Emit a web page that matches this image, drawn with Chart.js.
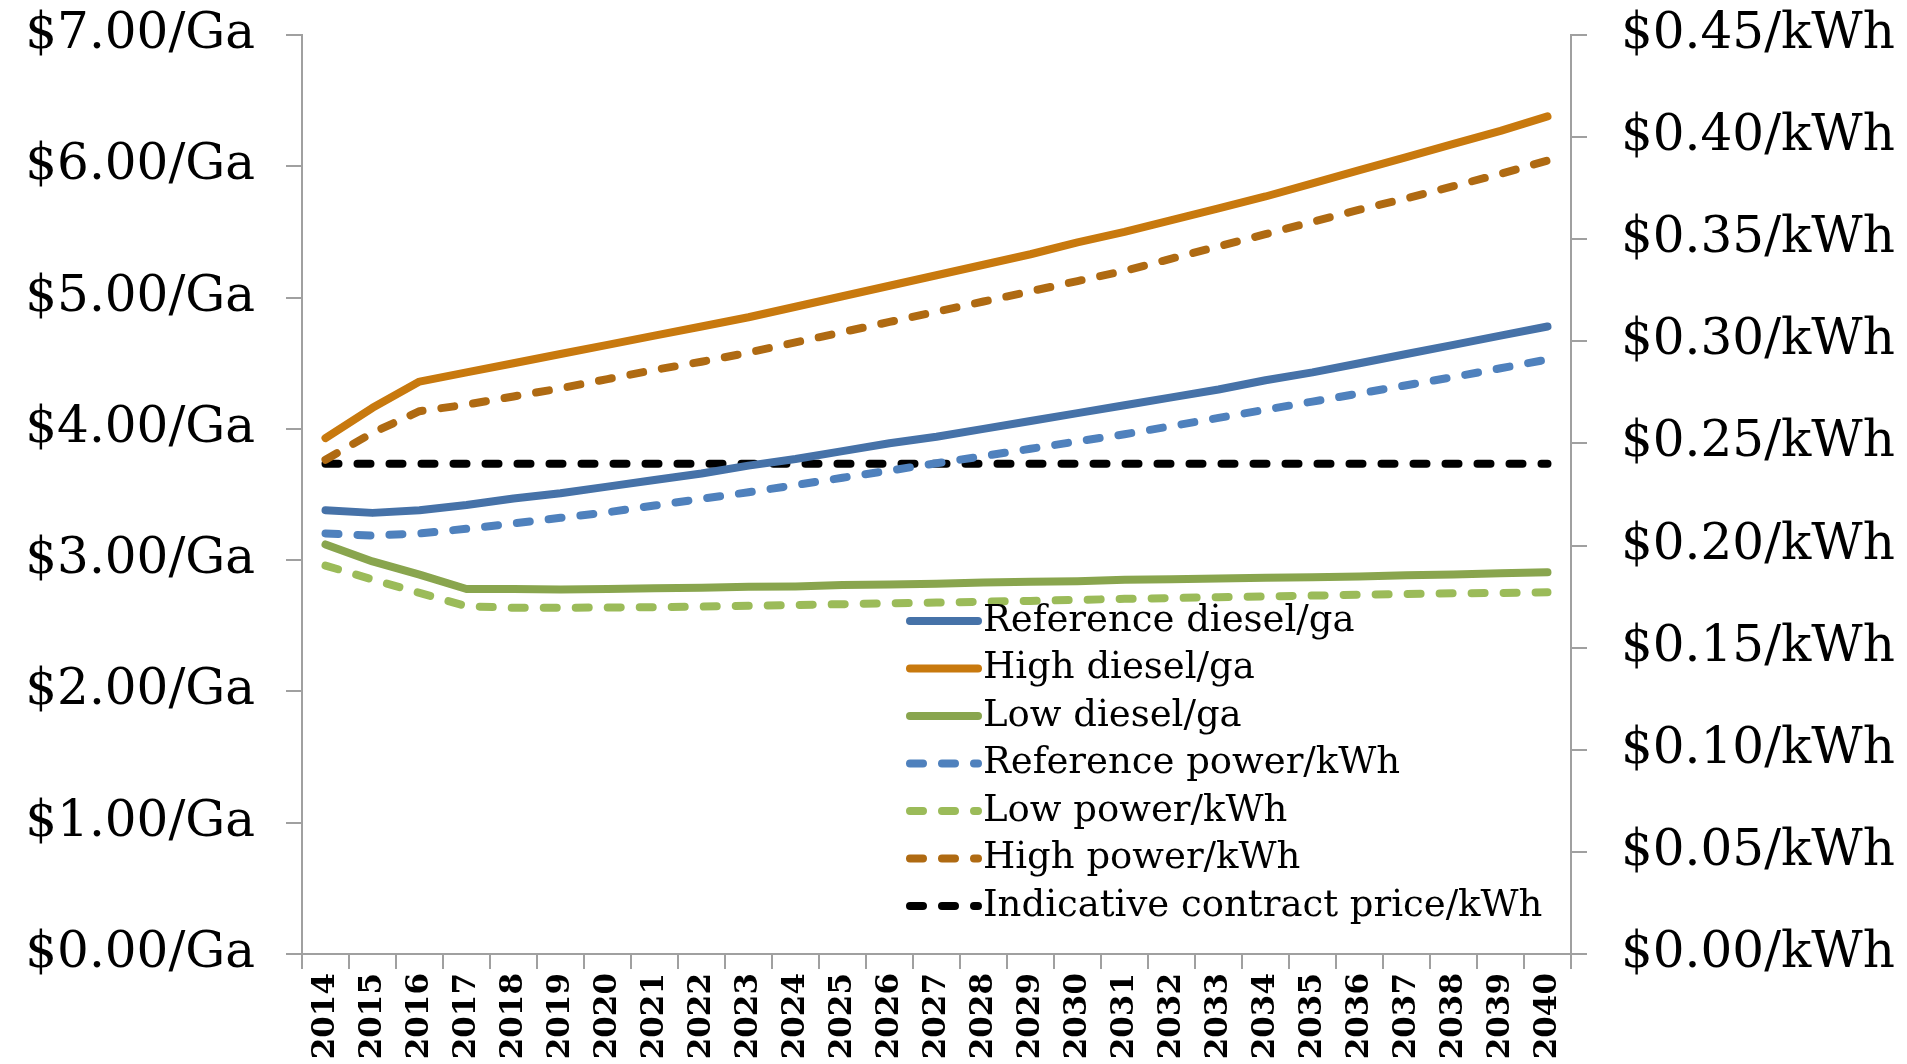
<!DOCTYPE html>
<html lang="en">
<head>
    <meta charset="UTF-8">
    <title>Diesel and power price projections</title>
    <style>
        body {
            margin: 0;
            background-color: white;
        }
        .chart-container {
            width: 1907px;
            height: 1064px;
        }
    </style>
</head>
<body>
    <div class="chart-container">
        <canvas id="priceChart"></canvas>
    </div>

    <script src="https://cdn.jsdelivr.net/npm/chart.js"></script>
    <script>
        // Data
        const years = ['2014', '2015', '2016', '2017', '2018', '2019', '2020', '2021', '2022',
            '2023', '2024', '2025', '2026', '2027', '2028', '2029', '2030', '2031', '2032',
            '2033', '2034', '2035', '2036', '2037', '2038', '2039', '2040'];

        // $/gallon (left axis)
        const refDiesel = [3.38, 3.36, 3.38, 3.42, 3.47, 3.51, 3.56, 3.61, 3.66,
            3.72, 3.77, 3.83, 3.89, 3.94, 4.00, 4.06, 4.12, 4.18, 4.24,
            4.30, 4.37, 4.43, 4.50, 4.57, 4.64, 4.71, 4.78];
        const highDiesel = [3.93, 4.16, 4.36, 4.43, 4.50, 4.57, 4.64, 4.71, 4.78,
            4.85, 4.93, 5.01, 5.09, 5.17, 5.25, 5.33, 5.42, 5.50, 5.59,
            5.68, 5.77, 5.87, 5.97, 6.07, 6.17, 6.27, 6.38];
        const lowDiesel = [3.12, 2.99, 2.89, 2.78, 2.78, 2.776, 2.78, 2.786, 2.79,
            2.797, 2.80, 2.81, 2.815, 2.82, 2.83, 2.835, 2.84, 2.85, 2.855,
            2.86, 2.865, 2.87, 2.875, 2.885, 2.89, 2.90, 2.908];

        // $/kWh (right axis)
        const refPower = [0.2059, 0.2049, 0.2059, 0.2082, 0.2108, 0.2136, 0.2163, 0.2196, 0.2229,
            0.2261, 0.2296, 0.2332, 0.2367, 0.2403, 0.2438, 0.2474, 0.2510, 0.2545, 0.2585,
            0.2625, 0.2665, 0.2705, 0.2745, 0.2785, 0.2825, 0.2868, 0.2911];
        const lowPower = [0.1902, 0.1834, 0.1768, 0.1703, 0.1695, 0.1695, 0.1697, 0.1698, 0.1701,
            0.1705, 0.1709, 0.1713, 0.1717, 0.1721, 0.1725, 0.1729, 0.1734, 0.1739, 0.1743,
            0.1747, 0.1751, 0.1755, 0.1759, 0.1763, 0.1766, 0.1768, 0.1771];
        const highPower = [0.242, 0.2552, 0.2658, 0.269, 0.273, 0.277, 0.2815, 0.286, 0.290,
            0.2945, 0.2995, 0.3045, 0.3095, 0.3145, 0.3195, 0.3245, 0.3295, 0.3345, 0.3405,
            0.3465, 0.3525, 0.3585, 0.3645, 0.370, 0.376, 0.382, 0.3885];
        const contractPrice = [0.24, 0.24, 0.24, 0.24, 0.24, 0.24, 0.24, 0.24, 0.24,
            0.24, 0.24, 0.24, 0.24, 0.24, 0.24, 0.24, 0.24, 0.24, 0.24,
            0.24, 0.24, 0.24, 0.24, 0.24, 0.24, 0.24, 0.24];

        const leftTicks = ['$0.00/Ga', '$1.00/Ga', '$2.00/Ga', '$3.00/Ga', '$4.00/Ga',
            '$5.00/Ga', '$6.00/Ga', '$7.00/Ga'];
        const rightTicks = ['$0.00/kWh', '$0.05/kWh', '$0.10/kWh', '$0.15/kWh', '$0.20/kWh',
            '$0.25/kWh', '$0.30/kWh', '$0.35/kWh', '$0.40/kWh', '$0.45/kWh'];

        const axisColor = '#a0a0a0';
        const dash = [13, 19];

        function series(label, data, color, axis, dashed) {
            return {
                label: label,
                data: data,
                yAxisID: axis,
                borderColor: color,
                backgroundColor: color,
                borderWidth: 8,
                borderDash: dashed ? dash : [],
                borderCapStyle: 'round',
                borderJoinStyle: 'round',
                pointRadius: 0,
                tension: 0
            };
        }

        // y axes: keep the width fixed and don't let tick padding push the plot down
        function fixWidth(w) {
            return function (scale) {
                scale.width = w;
                scale.paddingTop = 0;
                scale.paddingBottom = 0;
            };
        }

        // legend drawn inside the plot, bottom right
        const insideLegend = {
            id: 'insideLegend',
            afterDraw(chart) {
                const ctx = chart.ctx;
                const x0 = 910, lineLen = 68, textX = 983, y0 = 621, step = 47.5;
                ctx.save();
                ctx.font = '37px "DejaVu Serif"';
                ctx.textBaseline = 'middle';
                ctx.fillStyle = '#000';
                chart.data.datasets.forEach((ds, i) => {
                    const y = y0 + i * step;
                    ctx.beginPath();
                    ctx.strokeStyle = ds.borderColor;
                    ctx.lineWidth = 8;
                    ctx.lineCap = 'round';
                    ctx.setLineDash(ds.borderDash);
                    ctx.moveTo(x0, y);
                    ctx.lineTo(x0 + lineLen, y);
                    ctx.stroke();
                    ctx.setLineDash([]);
                    ctx.fillText(ds.label, textX, y);
                });
                ctx.restore();
            }
        };

        const ctx = document.getElementById('priceChart').getContext('2d');
        const priceChart = new Chart(ctx, {
            type: 'line',
            data: {
                labels: years,
                datasets: [
                    series('Reference diesel/ga', refDiesel, '#4672a8', 'yLeft', false),
                    series('High diesel/ga', highDiesel, '#c8790e', 'yLeft', false),
                    series('Low diesel/ga', lowDiesel, '#89a54e', 'yLeft', false),
                    series('Reference power/kWh', refPower, '#4f81bd', 'yRight', true),
                    series('Low power/kWh', lowPower, '#9bbb59', 'yRight', true),
                    series('High power/kWh', highPower, '#af6a12', 'yRight', true),
                    series('Indicative contract price/kWh', contractPrice, '#000000', 'yRight', true)
                ]
            },
            options: {
                responsive: true,
                maintainAspectRatio: false,
                animation: false,
                layout: {
                    padding: { top: 35, left: 0, right: 0, bottom: 0 }
                },
                plugins: {
                    legend: { display: false },
                    tooltip: { enabled: false }
                },
                scales: {
                    x: {
                        offset: true,
                        grid: {
                            offset: true,
                            drawOnChartArea: false,
                            color: axisColor,
                            lineWidth: 2,
                            tickLength: 15
                        },
                        border: { color: axisColor, width: 2 },
                        ticks: {
                            autoSkip: false,
                            minRotation: 90,
                            maxRotation: 90,
                            padding: 4,
                            color: '#000',
                            font: { family: 'DejaVu Serif', size: 31, weight: 'bold' }
                        },
                        afterFit(scale) { scale.height = 110; }
                    },
                    yLeft: {
                        position: 'left',
                        min: 0,
                        max: 7,
                        ticks: {
                            stepSize: 1,
                            padding: 31,
                            color: '#000',
                            font: { family: 'DejaVu Serif', size: 50 },
                            callback: (v, i) => leftTicks[i]
                        },
                        grid: {
                            drawOnChartArea: false,
                            color: axisColor,
                            lineWidth: 2,
                            tickLength: 16
                        },
                        border: { color: axisColor, width: 2 },
                        afterFit: fixWidth(302)
                    },
                    yRight: {
                        position: 'right',
                        min: 0,
                        max: 0.45,
                        ticks: {
                            stepSize: 0.05,
                            padding: 34,
                            color: '#000',
                            font: { family: 'DejaVu Serif', size: 50 },
                            callback: (v, i) => rightTicks[i]
                        },
                        grid: {
                            drawOnChartArea: false,
                            color: axisColor,
                            lineWidth: 2,
                            tickLength: 16
                        },
                        border: { color: axisColor, width: 2 },
                        afterFit: fixWidth(336)
                    }
                }
            },
            plugins: [insideLegend]
        });
    </script>
</body>
</html>
